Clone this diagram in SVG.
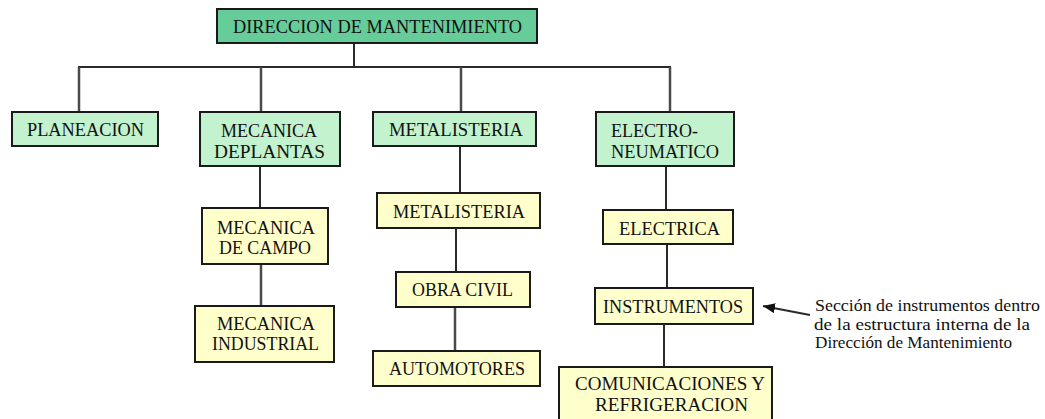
<svg xmlns="http://www.w3.org/2000/svg" width="1045" height="419" viewBox="0 0 1045 419">
<defs>
<marker id="ah" viewBox="0 0 12 10" refX="12" refY="5" markerWidth="12" markerHeight="10" markerUnits="userSpaceOnUse" orient="auto">
<path d="M0,0 L12,5 L0,10 Z" fill="#111"/>
</marker>
<style>
.box{stroke:#1a1a1a;stroke-width:2}
.top{fill:#66CC99}
.grn{fill:#C2F2CE}
.yel{fill:#FFFFCC}
text{font-family:'Liberation Serif','Times New Roman',serif;fill:#111}
.t{font-size:18px;text-anchor:middle}
.tl{font-size:18px;text-anchor:start}
.note{font-size:17px}
.c{stroke:#2a2a2a;stroke-width:2;fill:none}
.d{stroke:#4a4a4a;stroke-width:2.5;fill:none}
</style>
</defs>
<rect width="1045" height="419" fill="#ffffff"/>
<g id="connectors">
<line class="c" x1="354" y1="43" x2="354" y2="67"/>
<line class="c" x1="78" y1="67" x2="671" y2="67"/>
<line class="d" x1="79" y1="67" x2="79" y2="112"/>
<line class="d" x1="261" y1="67" x2="261" y2="112"/>
<line class="d" x1="461" y1="67" x2="461" y2="112"/>
<line class="d" x1="670" y1="67" x2="670" y2="112"/>
<line class="c" x1="260" y1="166" x2="260" y2="208"/>
<line class="d" x1="261" y1="264" x2="261" y2="306"/>
<line class="c" x1="460" y1="146" x2="460" y2="193"/>
<line class="c" x1="456" y1="228" x2="456" y2="272"/>
<line class="d" x1="455" y1="307" x2="455" y2="351"/>
<line class="c" x1="666" y1="166" x2="666" y2="210"/>
<line class="c" x1="667" y1="244" x2="667" y2="288"/>
<line class="c" x1="664" y1="324" x2="664" y2="367"/>
<line class="c" x1="810" y1="315" x2="763" y2="306" marker-end="url(#ah)"/>
</g>
<g id="n-direccion">
<rect class="box top" x="217" y="9" width="320" height="34"/>
<text class="t" x="377.5" y="33" textLength="289" lengthAdjust="spacingAndGlyphs">DIRECCION DE MANTENIMIENTO</text>
</g>
<g id="n-planeacion">
<rect class="box grn" x="12" y="112" width="146" height="34"/>
<text class="t" x="85.5" y="135.5" textLength="117" lengthAdjust="spacingAndGlyphs">PLANEACION</text>
</g>
<g id="n-mecanica-plantas">
<rect class="box grn" x="200" y="112" width="140" height="54"/>
<text class="t" x="269" y="137" textLength="96" lengthAdjust="spacingAndGlyphs">MECANICA</text>
<text class="t" x="269.5" y="158" textLength="111" lengthAdjust="spacingAndGlyphs">DEPLANTAS</text>
</g>
<g id="n-metalisteria">
<rect class="box grn" x="373" y="112" width="163" height="34"/>
<text class="t" x="456" y="135.5" textLength="134" lengthAdjust="spacingAndGlyphs">METALISTERIA</text>
</g>
<g id="n-electroneumatico">
<rect class="box grn" x="596" y="112" width="138" height="54"/>
<text class="tl" x="611" y="136.5" textLength="87" lengthAdjust="spacingAndGlyphs">ELECTRO-</text>
<text class="tl" x="611" y="157.5" textLength="108" lengthAdjust="spacingAndGlyphs">NEUMATICO</text>
</g>
<g id="n-mecanica-campo">
<rect class="box yel" x="202" y="208" width="126" height="56"/>
<text class="t" x="266" y="233.5" textLength="98" lengthAdjust="spacingAndGlyphs">MECANICA</text>
<text class="t" x="265" y="253.5" textLength="92" lengthAdjust="spacingAndGlyphs">DE CAMPO</text>
</g>
<g id="n-mecanica-industrial">
<rect class="box yel" x="195" y="306" width="139" height="56"/>
<text class="t" x="266" y="329.5" textLength="98" lengthAdjust="spacingAndGlyphs">MECANICA</text>
<text class="t" x="265.5" y="349.5" textLength="107" lengthAdjust="spacingAndGlyphs">INDUSTRIAL</text>
</g>
<g id="n-metalisteria-2">
<rect class="box yel" x="377" y="193" width="163" height="35"/>
<text class="t" x="459" y="217.5" textLength="132" lengthAdjust="spacingAndGlyphs">METALISTERIA</text>
</g>
<g id="n-obra-civil">
<rect class="box yel" x="396" y="272" width="134" height="35"/>
<text class="t" x="462.5" y="295.5" textLength="101" lengthAdjust="spacingAndGlyphs">OBRA CIVIL</text>
</g>
<g id="n-automotores">
<rect class="box yel" x="373" y="351" width="167" height="35"/>
<text class="t" x="457" y="374.5" textLength="136" lengthAdjust="spacingAndGlyphs">AUTOMOTORES</text>
</g>
<g id="n-electrica">
<rect class="box yel" x="603" y="210" width="130" height="34"/>
<text class="t" x="669.5" y="234.5" textLength="101" lengthAdjust="spacingAndGlyphs">ELECTRICA</text>
</g>
<g id="n-instrumentos">
<rect class="box yel" x="595" y="288" width="158" height="36"/>
<text class="t" x="673" y="312.5" textLength="140" lengthAdjust="spacingAndGlyphs">INSTRUMENTOS</text>
</g>
<g id="n-comunicaciones">
<rect class="box yel" x="559" y="367" width="213" height="60"/>
<text class="t" x="670" y="389.5" textLength="190" lengthAdjust="spacingAndGlyphs">COMUNICACIONES Y</text>
<text class="t" x="671.5" y="410.5" textLength="153" lengthAdjust="spacingAndGlyphs">REFRIGERACION</text>
</g>
<g id="annotation">
<text class="note" x="815" y="311" textLength="225" lengthAdjust="spacingAndGlyphs">Sección de instrumentos dentro</text>
<text class="note" x="814" y="330" textLength="216" lengthAdjust="spacingAndGlyphs">de la estructura interna de la</text>
<text class="note" x="815" y="348" textLength="197" lengthAdjust="spacingAndGlyphs">Dirección de Mantenimiento</text>
</g>
</svg>
